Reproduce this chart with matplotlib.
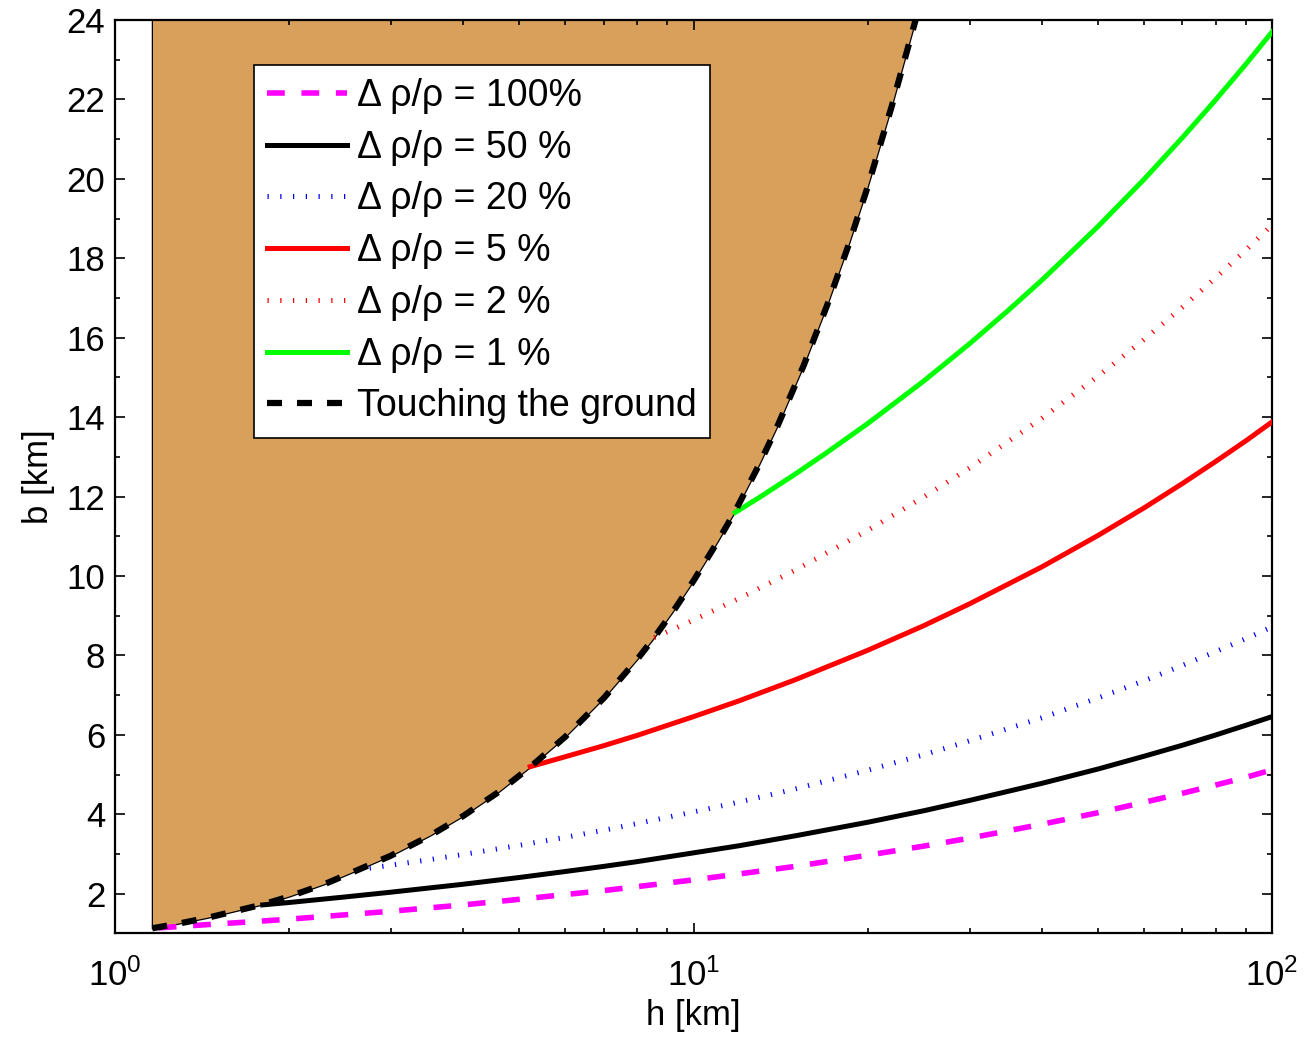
import numpy as np
import matplotlib
matplotlib.use("Agg")
import matplotlib.pyplot as plt
from matplotlib.ticker import MultipleLocator, LogLocator, NullFormatter

plt.rcParams['font.family'] = ['Liberation Sans', 'DejaVu Sans']
plt.rcParams['mathtext.fontset'] = 'custom'
plt.rcParams['mathtext.rm'] = 'Liberation Sans'

# curve where the body touches the ground (also the right edge of the shaded area)
h_touch = [1.16, 1.3, 1.45, 1.6, 1.8, 2.0, 2.3, 2.62, 3.0, 3.5, 4.0, 4.6, 5.22, 6.0, 7.0, 8.0,
           8.55, 9.3, 10.0, 11.0, 11.8, 13.0, 14.0, 15.5, 17.0, 18.5, 20.0, 22.0, 24.2, 26.0]
b_touch = [1.13, 1.26, 1.40, 1.55, 1.73, 1.93, 2.24, 2.59, 2.96, 3.46, 3.96, 4.56, 5.19, 5.95, 6.93, 7.91,
           8.45, 9.19, 9.88, 10.86, 11.63, 12.82, 13.81, 15.30, 16.80, 18.30, 19.80, 21.82, 24.0, 25.8]
h_left = 1.158

# contours of constant density contrast
h_100 = [1.19, 1.4, 1.7, 2, 2.5, 3, 4, 5, 6, 7, 8, 10, 12, 15, 20, 25, 30, 40, 50, 60, 70, 80, 90, 100]
b_100 = [1.14, 1.21, 1.29, 1.36, 1.47, 1.56, 1.72, 1.86, 1.98, 2.08, 2.18, 2.35, 2.50, 2.69, 2.97,
         3.20, 3.40, 3.75, 4.04, 4.30, 4.53, 4.74, 4.93, 5.12]

h_50 = [1.8, 2, 2.5, 3, 4, 5, 6, 7, 8, 10, 12, 15, 20, 25, 30, 40, 50, 60, 70, 80, 90, 100]
b_50 = [1.72, 1.78, 1.92, 2.04, 2.24, 2.41, 2.56, 2.69, 2.81, 3.03, 3.21, 3.46, 3.80, 4.09, 4.35,
        4.78, 5.14, 5.46, 5.74, 6.00, 6.24, 6.46]

h_20 = [2.62, 3, 3.5, 4, 5, 6, 7, 8, 10, 12, 15, 20, 25, 30, 40, 50, 60, 70, 80, 90, 100]
b_20 = [2.60, 2.72, 2.86, 2.99, 3.22, 3.42, 3.60, 3.77, 4.06, 4.31, 4.64, 5.11, 5.50, 5.85, 6.43,
        6.93, 7.36, 7.75, 8.10, 8.42, 8.72]

h_5 = [5.22, 6, 7, 8, 10, 12, 15, 20, 25, 30, 40, 50, 60, 70, 80, 90, 100]
b_5 = [5.20, 5.45, 5.73, 5.99, 6.46, 6.86, 7.39, 8.13, 8.75, 9.30, 10.23, 11.02, 11.71, 12.33,
       12.89, 13.40, 13.88]

h_2 = [8.55, 10, 12, 15, 20, 25, 30, 40, 50, 60, 70, 80, 90, 100]
b_2 = [8.45, 8.89, 9.44, 10.15, 11.15, 11.99, 12.72, 13.97, 15.03, 15.95, 16.77, 17.52, 18.20, 18.84]

h_1 = [11.8, 13, 15, 17, 20, 25, 30, 35, 40, 50, 60, 70, 80, 90, 100]
b_1 = [11.6, 11.98, 12.57, 13.11, 13.84, 14.91, 15.85, 16.69, 17.45, 18.80, 19.98, 21.04, 22.00,
       22.88, 23.70]

labels = ['Δ ρ/ρ = 100%', 'Δ ρ/ρ = 50 %', 'Δ ρ/ρ = 20 %', 'Δ ρ/ρ = 5 %',
          'Δ ρ/ρ = 2 %', 'Δ ρ/ρ = 1 %', 'Touching the ground']

fig = plt.figure(figsize=(13.04, 10.38), dpi=100)
ax = fig.add_axes([0.0882, 0.1007, 0.8873, 0.880])

ax.fill_betweenx(b_touch, h_left, h_touch, facecolor='#D9A05B', edgecolor='black', linewidth=0.9, zorder=1)

dash = (0, (3.2, 3.0))
dot = (0, (0.25, 2.3))
l1, = ax.plot(h_100, b_100, color='#FF00FF', lw=4, linestyle=dash, zorder=3)
l2, = ax.plot(h_50, b_50, color='black', lw=3.6, zorder=3)
l3, = ax.plot(h_20, b_20, color='#0000FF', lw=3.6, linestyle=dot, zorder=3)
l4, = ax.plot(h_5, b_5, color='#FF0000', lw=3.6, zorder=3)
l5, = ax.plot(h_2, b_2, color='#FF0000', lw=3.6, linestyle=dot, zorder=3)
l6, = ax.plot(h_1, b_1, color='#00FF00', lw=3.6, zorder=3)
l7, = ax.plot(h_touch, b_touch, color='black', lw=4.5, linestyle=(0, (2.4, 2.4)), zorder=4)

ax.set_xscale('log')
ax.set_xlim(1, 100)
ax.set_ylim(1, 24)
ax.set_yticks(np.arange(2, 25, 2))
ax.yaxis.set_minor_locator(MultipleLocator(1))
ax.xaxis.set_minor_locator(LogLocator(base=10, subs=np.arange(2, 10)))
ax.xaxis.set_minor_formatter(NullFormatter())

ax.tick_params(which='both', direction='in', top=True, right=True, labelsize=25, width=1.2)
ax.tick_params(which='major', length=7)
ax.tick_params(which='minor', length=3.6)
ax.tick_params(axis='y', pad=7)
ax.tick_params(axis='x', pad=18)
for s in ax.spines.values():
    s.set_linewidth(1.6)

ax.set_xlabel('h [km]', fontsize=25, labelpad=4)
ax.set_ylabel('b [km]', fontsize=25, labelpad=8)

leg = ax.legend([l1, l2, l3, l4, l5, l6, l7], labels, loc='upper left',
                bbox_to_anchor=(0.120, 0.951), borderaxespad=0, fontsize=27,
                fancybox=False, framealpha=1, edgecolor='black',
                handlelength=2.13, handletextpad=0.27, labelspacing=0.42,
                borderpad=0.35)
leg.get_frame().set_linewidth(1.2)

fig.savefig('out.png', dpi=100)
